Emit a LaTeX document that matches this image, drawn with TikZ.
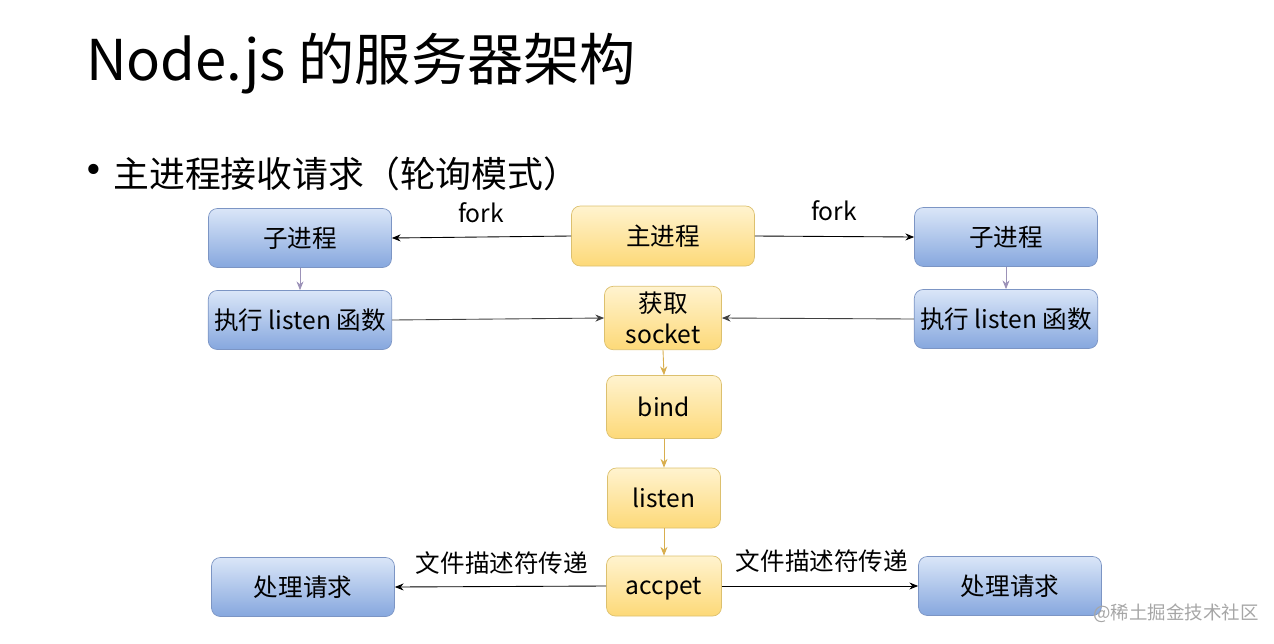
\documentclass[tikz,border=0pt]{standalone}
\usepackage{fontspec}
\setmainfont{Noto Sans CJK SC}
\newfontfamily\dotfont{DejaVu Sans}
\usepackage{tikz}
\usetikzlibrary{arrows.meta}

\definecolor{blueT}{HTML}{DAE6F8}
\definecolor{blueB}{HTML}{86A7DE}
\definecolor{blueD}{HTML}{7C95C4}
\definecolor{yelT}{HTML}{FFF3CF}
\definecolor{yelB}{HTML}{FDD978}
\definecolor{yelD}{HTML}{DCC06E}
\definecolor{childline}{HTML}{9C92B8}
\definecolor{mainline}{HTML}{D8AE4E}

\tikzset{
  box/.style={rounded corners=5pt, draw=blueD, top color=blueT, bottom color=blueB,
    minimum width=3.66cm, minimum height=1.18cm, font=\fontsize{14}{17}\selectfont},
  mbox/.style={rounded corners=5pt, draw=yelD, top color=yelT, bottom color=yelB,
    minimum height=1.2cm, font=\fontsize{14}{17.5}\selectfont, align=center},
  conn/.style={-{Stealth[length=5pt,width=4pt]}, line width=0.5pt},
  lbl/.style={font=\fontsize{14}{17}\selectfont}
}

\begin{document}
\begin{tikzpicture}[x=0.02cm,y=-0.02cm]
\useasboundingbox (0,0) rectangle (1274,643);

\node[anchor=base west, font=\fontsize{32}{38}\selectfont] (title) at (80,80) {Node.js 的服务器架构};
\node[font=\dotfont\fontsize{20}{24}\selectfont] (dot) at (94,173) {•};
\node[anchor=base west, font=\fontsize{20.4}{24}\selectfont, inner xsep=0pt] (point) at (113,187) {主进程接收请求（轮询模式）};

% main process
\node[mbox, minimum width=3.66cm] (main) at (663,236) {主进程};
\node[mbox, minimum width=2.34cm, minimum height=1.24cm] (sock) at (663,318) {获取\\socket};
\node[mbox, minimum width=2.3cm, minimum height=1.26cm] (bind) at (664,407) {bind};
\node[mbox, minimum width=2.26cm] (listen) at (664,498) {listen};
\node[mbox, minimum width=2.3cm, text depth=0pt] (acc) at (664,586) {accpet};

% child processes
\node[box] (childL) at (300,238) {子进程};
\node[box] (childR) at (1006,237) {子进程};
\node[box] (execL) at (300,320) {执行 listen 函数};
\node[box] (execR) at (1006,319) {执行 listen 函数};
\node[box] (doL) at (303,587) {处理请求};
\node[box] (doR) at (1010,586) {处理请求};

\draw[conn] (main.west) -- (childL.east);
\draw[conn] (main.east) -- (childR.west);
\node[lbl] (forkL) at (481,213) {fork};
\node[lbl] (forkR) at (834,211) {fork};

\draw[conn, draw=childline] (childL.south) -- (execL.north);
\draw[conn, draw=childline] (childR.south) -- (execR.north);
\draw[conn, draw=black!75] (execL.east) -- (sock.west);
\draw[conn, draw=black!75] (execR.west) -- (sock.east);

\draw[conn, draw=mainline] (sock.south) -- (bind.north);
\draw[conn, draw=mainline] (bind.south) -- (listen.north);
\draw[conn, draw=mainline] (listen.south) -- (acc.north);

\draw[conn] (acc.west) -- (doL.east);
\draw[conn] (acc.east) -- (doR.west);
\node[lbl] (fdL) at (502,563) {文件描述符传递};
\node[lbl] (fdR) at (822,561) {文件描述符传递};

\node[text=black!35, font=\fontsize{10.5}{12}\selectfont] (mark) at (1176,613) {@稀土掘金技术社区};
\end{tikzpicture}
\end{document}
